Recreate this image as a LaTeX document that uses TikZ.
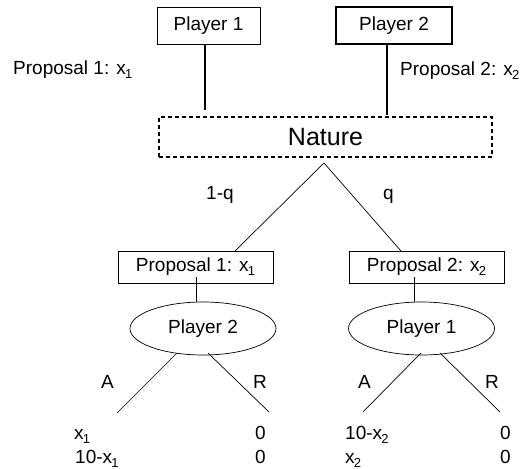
\documentclass[tikz,border=0pt]{standalone}
\usepackage{fontspec}
\setmainfont{Liberation Sans}
\usetikzlibrary{shapes.geometric}
\newcommand\mysub[1]{\kern-0.8pt\raisebox{-4pt}{\fontsize{13}{13}\selectfont #1}}
\begin{document}
\begin{tikzpicture}[x=1pt,y=-1pt,
  every node/.style={font=\fontsize{19}{22}\selectfont, inner sep=0pt},
  topbox/.style={draw, minimum width=103pt, minimum height=37pt},
  propbox/.style={draw, line width=0.8pt, minimum width=155pt, minimum height=32pt},
  playerell/.style={ellipse, draw, line width=0.7pt, minimum width=146pt, minimum height=53pt},
  natbox/.style={draw, line width=1.3pt, dash pattern=on 4pt off 3pt, minimum width=333pt, minimum height=40pt, font=\fontsize{25}{28}\selectfont},
  stem/.style={line width=1.4pt},
  branch/.style={line width=0.7pt},
  lbl/.style={anchor=base west}]
\useasboundingbox (0,0) rectangle (531,469);

% top boxes
\node[topbox, line width=0.8pt] (p1) at (208.5,25.5) {Player 1};
\node[topbox, minimum width=116pt, line width=1.4pt] (p2) at (394,25.5) {Player 2\hspace{18pt}};
\node[lbl] (l1) at (13,74) {Proposal 1: x\mysub{1}};
\node[lbl] (l2) at (400,75) {Proposal 2: x\mysub{2}};

% nature
\node[natbox] (nat) at (325.5,137) {Nature\hspace{14pt}};

\coordinate (b1) at (205,110);
\coordinate (b2) at (387,115);
\draw[stem] (p1.south -| b1) -- (b1);
\draw[stem] (p2.south -| b2) -- (b2);

% chance branches
\coordinate (apex) at (324,163);
\node[propbox] (pr1) at (195.5,267) {Proposal 1: x\mysub{1}\hspace{14pt}};
\node[propbox] (pr2) at (426.5,267) {Proposal 2: x\mysub{2}\hspace{11pt}};
\coordinate (c1) at (235,251);
\coordinate (c2) at (401,251);
\draw[branch] (c1) -- (apex) -- (c2);
\node[lbl] (q1) at (206,199) {1-q};
\node[lbl] (q2) at (383,199) {q};

% players
\node[playerell] (e2) at (203,328.5) {Player 2\hspace{30pt}};
\node[playerell] (e1) at (421.5,328.5) {Player 1\hspace{30pt}};
\coordinate (d1) at (196,277);
\coordinate (d2) at (414,277);
\draw[branch] (d1) -- (e2.north -| d1);
\draw[branch] (d2) -- (e1.north -| d2);

% decisions
\coordinate (s1) at (177,353);
\coordinate (s2) at (208,353);
\coordinate (s3) at (421,353);
\coordinate (s4) at (440,353);
\coordinate (t1) at (117,413);
\coordinate (t2) at (269,412);
\coordinate (t3) at (363,412);
\coordinate (t4) at (500,412);
\draw[branch] (s1) -- (t1);
\draw[branch] (s2) -- (t2);
\draw[branch] (s3) -- (t3);
\draw[branch] (s4) -- (t4);
\node[lbl] (a1) at (101,388) {A};
\node[lbl] (r1) at (253,388) {R};
\node[lbl] (a2) at (358,388) {A};
\node[lbl] (r2) at (485,388) {R};

% payoffs
\node[lbl] (u1) at (74,439) {x\mysub{1}};
\node[lbl] (u2) at (75,463) {10-x\mysub{1}};
\node[lbl] (u3) at (255,439) {0};
\node[lbl] (u4) at (255,463) {0};
\node[lbl] (u5) at (345,439) {10-x\mysub{2}};
\node[lbl] (u6) at (345,463) {x\mysub{2}};
\node[lbl] (u7) at (500,439) {0};
\node[lbl] (u8) at (500,463) {0};
\end{tikzpicture}
\end{document}
